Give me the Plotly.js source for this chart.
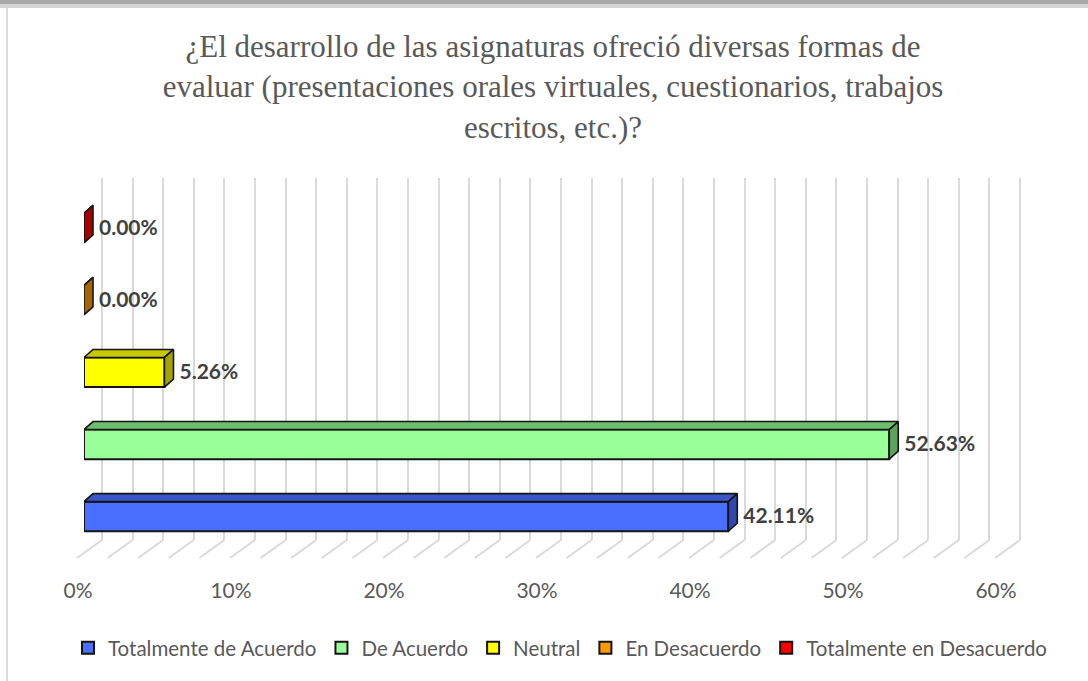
<!DOCTYPE html>
<html>
<head>
<meta charset="utf-8">
<script src="https://cdn.plot.ly/plotly-3.0.1.min.js"></script>
<style>html,body{margin:0;padding:0;background:#fff;}#chart{width:1088px;height:681px;}</style>
</head>
<body>
<div id="chart"></div>
<script>
// ---- data ----
var categories = ["Totalmente de Acuerdo", "De Acuerdo", "Neutral", "En Desacuerdo", "Totalmente en Desacuerdo"];
var values = [0.4211, 0.5263, 0.0526, 0.0, 0.0];
var frontColors = ["#4A6EFF", "#99FF99", "#FFFF00", "#FF9900", "#FF0000"];
var topColors = ["#3A56C8", "#6CBE6C", "#C8C800", "#C87800", "#C80000"];
var sideColors = ["#2F47AE", "#5DA35D", "#A4A400", "#A86400", "#A80000"];
var tickVals = [0, 0.1, 0.2, 0.3, 0.4, 0.5, 0.6];
var tickText = ["0%", "10%", "20%", "30%", "40%", "50%", "60%"];
var titleText = "¿El desarrollo de las asignaturas ofreció diversas formas de<br>evaluar (presentaciones orales virtuales, cuestionarios, trabajos<br>escritos, etc.)?";

// ---- geometry helpers (pixel layout) ----
var W = 1088, H = 681;
function px(x) { return x / W; }
function py(y) { return 1 - y / H; }
var xMax = 0.6;
var pxPerUnitX = 918 / xMax;      // pixels per data unit on bar axis
var depthX = 9 / pxPerUnitX;       // 3D depth offset in data units
var depthY = 8 / 72.1;             // 3D depth offset in category units
var labelGap = 6 / pxPerUnitX;
var barW = 0.41;
var floorShiftPx = 25;
var floorDx = floorShiftPx / pxPerUnitX;

var traces = [];
// dummy trace for back wall subplot
traces.push({type: "scatter", x: [null], y: [null], xaxis: "x", yaxis: "y", showlegend: false, hoverinfo: "skip"});

// front faces (legend entries)
for (var i = 0; i < categories.length; i++) {
  traces.push({
    type: "bar", orientation: "h", name: categories[i],
    x: [values[i]], y: [i], width: barW,
    xaxis: "x2", yaxis: "y2",
    marker: {color: frontColors[i], line: {color: "#141414", width: 2}},
    hoverinfo: "skip"
  });
}
// top and side faces
for (var j = 0; j < categories.length; j++) {
  var v = values[j], t = j + barW / 2, b = j - barW / 2;
  traces.push({
    type: "scatter", mode: "lines", fill: "toself", fillcolor: topColors[j],
    x: [0, v, v + depthX, depthX, 0], y: [t, t, t + depthY, t + depthY, t],
    line: {color: "#141414", width: 1.6}, xaxis: "x2", yaxis: "y2",
    showlegend: false, hoverinfo: "skip"
  });
  traces.push({
    type: "scatter", mode: "lines", fill: "toself", fillcolor: sideColors[j],
    x: [v, v + depthX, v + depthX, v, v], y: [b, b + depthY, t + depthY, t, b],
    line: {color: "#141414", width: 1.6}, xaxis: "x2", yaxis: "y2",
    showlegend: false, hoverinfo: "skip"
  });
}
// data labels
traces.push({
  type: "scatter", mode: "text",
  x: values.map(function (v) { return v + depthX + labelGap; }),
  y: categories.map(function (c, k) { return k - 0.02; }),
  text: values.map(function (v) { return (v * 100).toFixed(2) + "%"; }),
  textposition: "middle right",
  textfont: {family: "Lato", size: 21, color: "#404040", weight: "bold"},
  xaxis: "x2", yaxis: "y2", showlegend: false, hoverinfo: "skip", cliponaxis: false
});

// back wall grid & floor diagonals
var gridStep = 0.02;
var gridVals = [];
for (var g = 0; g <= 30; g++) { gridVals.push(g * gridStep); }
var shapes = [];
gridVals.forEach(function (gv) {
  shapes.push({type: "line", layer: "below", xref: "x", yref: "paper",
    x0: gv, x1: gv - floorDx, y0: py(540), y1: py(558),
    line: {color: "#d9d9d9", width: 2}});
});
// chart frame decoration
shapes.push({type: "rect", xref: "paper", yref: "paper", x0: 0, x1: 1, y0: py(4), y1: 1, fillcolor: "#a8a8a8", line: {width: 0}, layer: "below"});
shapes.push({type: "rect", xref: "paper", yref: "paper", x0: 0, x1: 1, y0: py(8), y1: py(4), fillcolor: "#d4d4d4", line: {width: 0}, layer: "below"});
shapes.push({type: "line", xref: "paper", yref: "paper", x0: px(7), x1: px(7), y0: 0, y1: py(8), line: {color: "#d9d9d9", width: 2}, layer: "below"});

var layout = {
  width: W, height: H,
  margin: {l: 0, r: 0, t: 0, b: 0},
  paper_bgcolor: "#ffffff", plot_bgcolor: "rgba(0,0,0,0)",
  barmode: "overlay",
  title: {text: titleText, font: {family: "Liberation Serif", size: 31, color: "#595959"},
    x: 553 / W, xanchor: "center", xref: "paper", y: 1 - 57 / H, yanchor: "top", yref: "container"},
  xaxis: {domain: [px(102 - floorShiftPx - 2), px(1022)], tickmode: "array", tickvals: gridVals,
    range: [-floorDx - 2 / pxPerUnitX, xMax + 2 / pxPerUnitX],
    showgrid: true, gridcolor: "#d9d9d9", gridwidth: 2, zeroline: false, showticklabels: false,
    showline: false, ticks: "", anchor: "y", fixedrange: true},
  // back wall: gridlines stop at the floor line
  yaxis: {domain: [py(540), py(178)], range: [0, 1], visible: false, showgrid: false, fixedrange: true},
  xaxis2: {domain: [px(84), px(1002)], range: [0, xMax], anchor: "free", position: py(576),
    tickmode: "array", tickvals: tickVals, ticktext: tickText, ticklabelshift: -6,
    tickfont: {family: "Lato", size: 21, color: "#595959"},
    showgrid: false, zeroline: false, showline: false, ticks: "", fixedrange: true},
  yaxis2: {domain: [py(552.5), py(192)], range: [-0.5, 4.5], visible: false, showgrid: false, fixedrange: true},
  legend: {orientation: "h", x: 560 / W, xanchor: "center", y: py(628), yanchor: "top",
    font: {family: "Lato", size: 20.5, color: "#595959"}, traceorder: "normal", itemwidth: 30},
  shapes: shapes,
  showlegend: true
};

Plotly.newPlot("chart", traces, layout, {staticPlot: true, displayModeBar: false});
</script>
</body>
</html>
